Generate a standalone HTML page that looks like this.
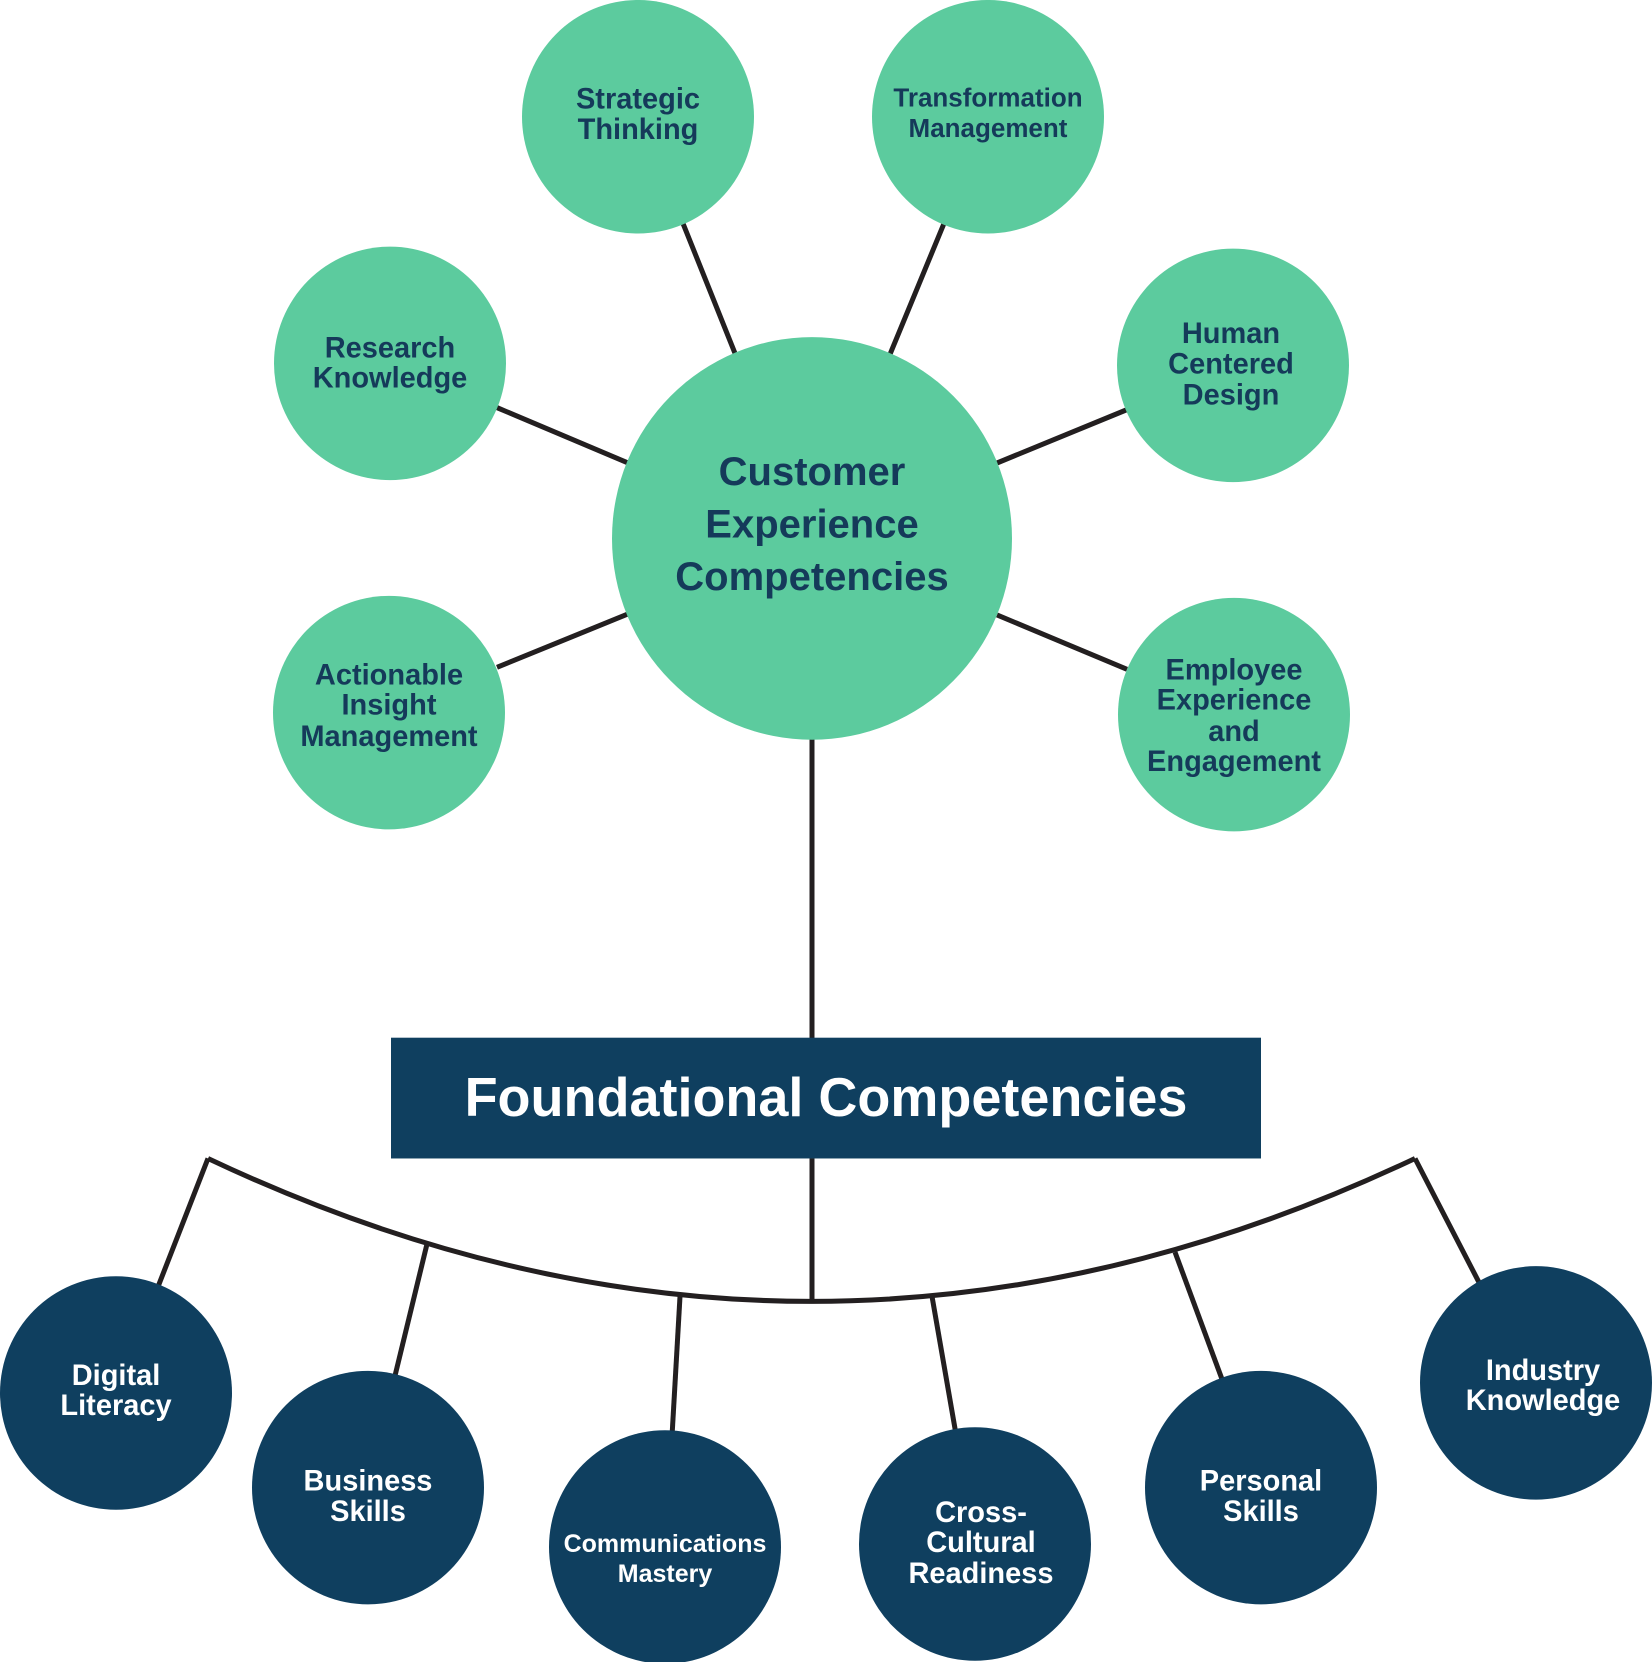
<!DOCTYPE html>
<html><head><meta charset="utf-8"><style>
html,body{margin:0;padding:0;background:#fff;}
svg{display:block;}
text{font-family:"Liberation Sans",sans-serif;font-weight:bold;text-anchor:middle;}
.g{fill:#5ccb9e;}
.n{fill:#0f3f5f;}
.tg{fill:#153a5a;font-size:29px;}
.tw{fill:#fff;font-size:29px;}
</style></head><body>
<svg width="1652" height="1662" viewBox="0 0 1652 1662">
<g transform="translate(0,1) scale(1,1.0065)">
<g stroke="#231f20" stroke-width="5" fill="none">
<line x1="683" y1="221" x2="735" y2="350"/>
<line x1="944" y1="221" x2="890" y2="351"/>
<line x1="497" y1="404" x2="628" y2="459"/>
<line x1="1127" y1="406" x2="997" y2="459"/>
<line x1="497" y1="662" x2="628" y2="609"/>
<line x1="1127" y1="664" x2="997" y2="610"/>
<line x1="812" y1="700" x2="812" y2="1035"/>
<line x1="812" y1="1150" x2="812" y2="1294"/>
<path d="M208 1150 Q812 1434 1415 1150"/>
<line x1="208" y1="1150" x2="157" y2="1280"/>
<line x1="427" y1="1235" x2="394" y2="1370"/>
<line x1="680" y1="1287" x2="672" y2="1426"/>
<line x1="932" y1="1287" x2="956" y2="1424"/>
<line x1="1175" y1="1243" x2="1223" y2="1372"/>
<line x1="1415" y1="1150" x2="1480" y2="1275"/>
</g>
<circle class="g" cx="812" cy="534" r="200"/>
<circle class="g" cx="638" cy="115" r="116"/>
<circle class="g" cx="988" cy="115" r="116"/>
<circle class="g" cx="390" cy="360" r="116"/>
<circle class="g" cx="1233" cy="362" r="116"/>
<circle class="g" cx="389" cy="707" r="116"/>
<circle class="g" cx="1234" cy="709" r="116"/>
<rect class="n" x="391" y="1030" width="870" height="120"/>
<circle class="n" cx="116" cy="1383" r="116"/>
<circle class="n" cx="368" cy="1477" r="116"/>
<circle class="n" cx="665" cy="1536" r="116"/>
<circle class="n" cx="975" cy="1533" r="116"/>
<circle class="n" cx="1261" cy="1477" r="116"/>
<circle class="n" cx="1536" cy="1373" r="116"/>

<text class="tg" style="font-size:40px" x="812" y="481">Customer</text>
<text class="tg" style="font-size:40px" x="812" y="533">Experience</text>
<text class="tg" style="font-size:40px" x="812" y="585">Competencies</text>

<text class="tg" x="638" y="107">Strategic</text>
<text class="tg" x="638" y="137">Thinking</text>
<text class="tg" style="font-size:26px" x="988" y="105">Transformation</text>
<text class="tg" style="font-size:26px" x="988" y="135">Management</text>
<text class="tg" x="390" y="354">Research</text>
<text class="tg" x="390" y="384">Knowledge</text>
<text class="tg" x="1231" y="340">Human</text>
<text class="tg" x="1231" y="370">Centered</text>
<text class="tg" x="1231" y="401">Design</text>
<text class="tg" x="389" y="679">Actionable</text>
<text class="tg" x="389" y="709">Insight</text>
<text class="tg" x="389" y="740">Management</text>
<text class="tg" x="1234" y="674">Employee</text>
<text class="tg" x="1234" y="704">Experience</text>
<text class="tg" x="1234" y="735">and</text>
<text class="tg" x="1234" y="765">Engagement</text>

<text x="826" y="1108" style="fill:#fff;font-size:54px">Foundational Competencies</text>

<text class="tw" x="116" y="1375">Digital</text>
<text class="tw" x="116" y="1405">Literacy</text>
<text class="tw" x="368" y="1480">Business</text>
<text class="tw" x="368" y="1510">Skills</text>
<text class="tw" style="font-size:25px" x="665" y="1541">Communications</text>
<text class="tw" style="font-size:25px" x="665" y="1571">Mastery</text>
<text class="tw" x="981" y="1511">Cross-</text>
<text class="tw" x="981" y="1541">Cultural</text>
<text class="tw" x="981" y="1572">Readiness</text>
<text class="tw" x="1261" y="1480">Personal</text>
<text class="tw" x="1261" y="1510">Skills</text>
<text class="tw" x="1543" y="1370">Industry</text>
<text class="tw" x="1543" y="1400">Knowledge</text>
</g>
</svg>
</body></html>
